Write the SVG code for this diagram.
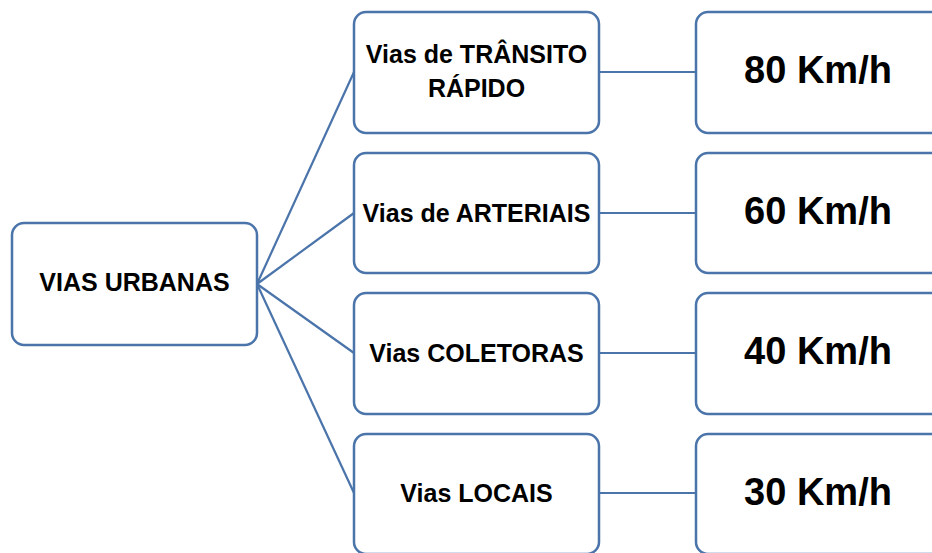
<svg xmlns="http://www.w3.org/2000/svg" width="932" height="553" viewBox="0 0 932 553">
<style>
.box{fill:#ffffff;stroke:#4a74aa;stroke-width:2.5}
.t{font-family:"Liberation Sans",Arial,sans-serif;font-weight:bold;font-size:25px;fill:#000;text-anchor:middle}
.big{font-size:38px}
.c{stroke:#4a74aa;stroke-width:2.2;fill:none}
</style>
<rect width="932" height="553" fill="#ffffff"/>
<g id="connectors">
<line class="c" x1="257" y1="284" x2="354" y2="72"/>
<line class="c" x1="257" y1="284" x2="354" y2="213"/>
<line class="c" x1="257" y1="284" x2="354" y2="353"/>
<line class="c" x1="257" y1="284" x2="354" y2="493"/>
<line class="c" x1="599" y1="72" x2="696" y2="72"/>
<line class="c" x1="599" y1="213" x2="696" y2="213"/>
<line class="c" x1="599" y1="353" x2="696" y2="353"/>
<line class="c" x1="599" y1="493" x2="696" y2="493"/>
</g>
<g id="vias-urbanas">
<rect class="box" x="12" y="223" width="245" height="122" rx="12"/>
<text class="t" x="134.5" y="291">VIAS URBANAS</text>
</g>
<g id="transito-rapido">
<rect class="box" x="354" y="12" width="245" height="121" rx="12"/>
<text class="t" x="476.5" y="63">Vias de TRÂNSITO</text>
<text class="t" x="476.5" y="97">RÁPIDO</text>
</g>
<g id="arteriais">
<rect class="box" x="354" y="153" width="245" height="120" rx="12"/>
<text class="t" x="476.5" y="222">Vias de ARTERIAIS</text>
</g>
<g id="coletoras">
<rect class="box" x="354" y="293" width="245" height="121" rx="12"/>
<text class="t" x="476.5" y="362">Vias COLETORAS</text>
</g>
<g id="locais">
<rect class="box" x="354" y="434" width="245" height="120" rx="12"/>
<text class="t" x="476.5" y="502">Vias LOCAIS</text>
</g>
<g id="v80">
<rect class="box" x="696" y="12" width="260" height="121" rx="12"/>
<text class="t big" x="818" y="83">80 Km/h</text>
</g>
<g id="v60">
<rect class="box" x="696" y="153" width="260" height="120" rx="12"/>
<text class="t big" x="818" y="224">60 Km/h</text>
</g>
<g id="v40">
<rect class="box" x="696" y="293" width="260" height="121" rx="12"/>
<text class="t big" x="818" y="364">40 Km/h</text>
</g>
<g id="v30">
<rect class="box" x="696" y="434" width="260" height="120" rx="12"/>
<text class="t big" x="818" y="505">30 Km/h</text>
</g>
</svg>
